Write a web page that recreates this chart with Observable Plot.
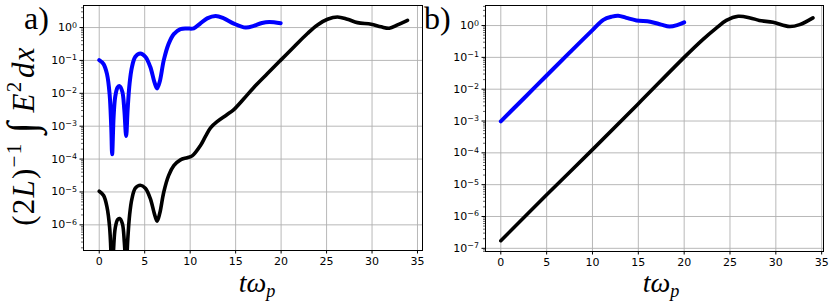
<!DOCTYPE html>
<html>
<head>
<meta charset="utf-8">
<script src="https://cdn.jsdelivr.net/npm/d3@7"></script>
<script src="https://cdn.jsdelivr.net/npm/@observablehq/plot@0.6"></script>
<style>
  html, body { margin: 0; padding: 0; background: white; }
  #fig { position: relative; width: 830px; height: 302px; overflow: hidden; }
  #fig > div.p { position: absolute; top: 0; }
  .lab { position: absolute; font-family: "Liberation Serif", "DejaVu Serif", serif; color: black; white-space: nowrap; line-height: 1; }
  .it { font-style: italic; }
  sup { font-size: 68%; vertical-align: 0; position: relative; top: -0.6em; }
  sub { font-size: 65%; vertical-align: 0; position: relative; top: 0.3em; }
  .int { font-size: 135%; position: relative; top: 0.05em; margin: 0 0.2em 0 0.22em; }
  .ylab { letter-spacing: 1.2px; }
</style>
</head>
<body>
<div id="fig">
  <div class="p" id="pa" style="left:0px"></div>
  <div class="p" id="pb" style="left:430px"></div>
  <div class="lab" style="left:24px; top:2px; font-size:32px;">a)</div>
  <div class="lab" style="left:424px; top:2px; font-size:32px;">b)</div>
  <div class="lab ylab" style="left:21px; top:136px; font-size:31px; transform: translate(-50%,-50%) rotate(-90deg);">(2<span class="it">L</span>)<sup>−1</sup><span class="int">∫</span><span class="it">E</span><sup>2</sup><span class="it" style="margin-left:0.08em">dx</span></div>
  <div class="lab" style="left:257px; top:283px; font-size:28px; transform: translate(-50%,-50%);"><span class="it">tω</span><sub class="it">p</sub></div>
  <div class="lab" style="left:661px; top:283px; font-size:28px; transform: translate(-50%,-50%);"><span class="it">tω</span><sub class="it">p</sub></div>
</div>
<script>
// ---- Panel a) data ----
const tBlueA = [0, 0.48, 0.85, 1.14, 1.32, 1.42, 1.58, 1.76, 2.02, 2.24, 2.54, 2.76, 2.96, 3.12, 3.34, 3.6, 3.97, 4.52, 5.07, 5.62, 6.06, 6.36, 6.65, 7.1, 7.64, 8.2, 8.93, 9.67, 10.4, 11.1, 11.87, 12.8, 13.7, 14.8, 16.1, 17.0, 17.9, 18.7, 19.95];
const eBlueA = [0.102, 0.0776, 0.0389, 0.00955, 9.5e-4, 1.4e-4, 1.9e-3, 7.9e-3, 0.0151, 0.0166, 0.0112, 3.1e-3, 5.0e-4, 3.1e-3, 0.020, 0.063, 0.129, 0.162, 0.129, 0.063, 0.0224, 0.0141, 0.0224, 0.102, 0.324, 0.63, 0.89, 0.93, 0.95, 1.32, 1.9, 2.24, 1.9, 1.32, 1.0, 1.12, 1.38, 1.48, 1.35];
const tBlackA = [0, 0.48, 0.85, 1.14, 1.32, 1.42, 1.58, 1.76, 2.02, 2.24, 2.54, 2.76, 2.96, 3.12, 3.34, 3.6, 3.97, 4.52, 5.07, 5.62, 6.06, 6.36, 6.65, 7.1, 7.64, 8.2, 8.93, 9.67, 10.22, 11.1, 11.7, 12.24, 13.0, 14.0, 14.8, 15.9, 17.0, 18.5, 19.96, 21.4, 22.9, 24.0, 25.1, 26.2, 27.3, 28.4, 29.9, 31.0, 31.9, 32.8, 33.9];
const eBlackA = [1.05e-5, 7.8e-6, 3.5e-6, 8.5e-7, 9e-8, 1.5e-8, 1.9e-7, 8e-7, 1.45e-6, 1.55e-6, 1.1e-6, 3e-7, 4e-8, 3e-7, 2e-6, 6.3e-6, 1.3e-5, 1.6e-5, 1.3e-5, 6.3e-6, 2.2e-6, 1.3e-6, 2.2e-6, 1e-5, 3.2e-5, 6.3e-5, 9.5e-5, 1.1e-4, 1.25e-4, 2.5e-4, 5e-4, 8.9e-4, 1.4e-3, 2.2e-3, 3.2e-3, 6.8e-3, 0.0151, 0.040, 0.102, 0.257, 0.66, 1.2, 1.78, 2.09, 1.78, 1.41, 1.26, 1.05, 0.95, 1.2, 1.66];

// ---- Panel b) data ----
const tBlueB = [0, 2.5, 5, 7.5, 10, 11.18, 12.1, 12.8, 13.7, 14.8, 16.3, 17.5, 18.4, 19.3, 20];
const eBlueB = [9.8e-4, 5.1e-3, 0.027, 0.141, 0.72, 1.51, 1.9, 2.04, 1.74, 1.45, 1.32, 1.07, 0.93, 1.05, 1.26];
const tBlackB = [0, 5, 10, 15, 20, 22.0, 23.5, 24.6, 25.9, 27.2, 28.2, 29.7, 31.5, 32.6, 34.05];
const eBlackB = [1.74e-7, 4.8e-6, 1.26e-4, 3.5e-3, 0.1, 0.355, 0.83, 1.45, 1.95, 1.74, 1.45, 1.26, 0.93, 1.07, 1.74];

// ---- ticks ----
const xTicks = [0, 5, 10, 15, 20, 25, 30, 35];
const yTicksA = [1e-6, 1e-5, 1e-4, 1e-3, 1e-2, 1e-1, 1];
const yTicksB = [1e-7, 1e-6, 1e-5, 1e-4, 1e-3, 1e-2, 1e-1, 1];

const fmt = d => {
  const e = Math.round(Math.log10(d));
  return "10^" + String(e).replace("-", "\u2212");
};
const minorTicks = (lo, hi) => {
  const out = [];
  for (let e = Math.floor(Math.log10(lo)); e <= Math.ceil(Math.log10(hi)); e++)
    for (let k = 2; k <= 9; k++) { const v = k * Math.pow(10, e); if (v >= lo && v <= hi) out.push(v); }
  return out;
};
const toRows = (ts, es) => ts.map((t, i) => ({t, e: es[i]}));

function superscripts(svg) {
  const ns = "http://www.w3.org/2000/svg";
  svg.querySelectorAll("text").forEach(t => {
    const s = t.textContent;
    if (!s.includes("^")) return;
    const [b, e] = s.split("^");
    t.textContent = b;
    const ts = document.createElementNS(ns, "tspan");
    ts.setAttribute("dy", "-0.45em");
    ts.setAttribute("font-size", "72%");
    ts.textContent = e;
    t.append(ts);
  });
  return svg;
}

function panel({width, ml, mr, mb, xdom, ydom, yTicks, blue, black}) {
  return superscripts(Plot.plot({
    width, height: 302,
    marginLeft: ml, marginRight: mr, marginTop: 5, marginBottom: mb,
    style: {fontFamily: "DejaVu Sans", fontSize: "11px", color: "black", background: "transparent", overflow: "visible"},
    x: {domain: xdom},
    y: {type: "log", domain: ydom},
    marks: [
      Plot.gridX({ticks: xTicks, stroke: "#b0b0b0", strokeOpacity: 1, strokeWidth: 0.9}),
      Plot.gridY({ticks: yTicks, stroke: "#b0b0b0", strokeOpacity: 1, strokeWidth: 0.9}),
      Plot.line(black, {x: "t", y: "e", stroke: "black", strokeWidth: 3.6, curve: "catmull-rom", clip: true}),
      Plot.line(blue, {x: "t", y: "e", stroke: "#0000ff", strokeWidth: 4, curve: "catmull-rom", clip: true}),
      Plot.frame({stroke: "black", strokeWidth: 1}),
      Plot.axisX({ticks: xTicks, tickSize: 3.5, tickPadding: 3, label: null, tickFormat: d => String(d)}),
      Plot.axisY({ticks: yTicks, tickSize: 3.5, tickPadding: 3, label: null, tickFormat: fmt}),
      Plot.axisY({ticks: minorTicks(ydom[0], ydom[1]), tickSize: 2, tickFormat: () => "", label: null, strokeWidth: 0.6})
    ]
  }));
}

document.getElementById("pa").append(panel({
  width: 430, ml: 83, mr: 8, mb: 52,
  xdom: [-1.73, 35.55], ydom: [Math.pow(10, -6.78), Math.pow(10, 0.67)],
  yTicks: yTicksA, blue: toRows(tBlueA, eBlueA), black: toRows(tBlackA, eBlackA)
}));
document.getElementById("pb").append(panel({
  width: 400, ml: 55, mr: 7, mb: 51,
  xdom: [-1.67, 35.2], ydom: [Math.pow(10, -7.1), Math.pow(10, 0.63)],
  yTicks: yTicksB, blue: toRows(tBlueB, eBlueB), black: toRows(tBlackB, eBlackB)
}));
</script>
</body>
</html>
